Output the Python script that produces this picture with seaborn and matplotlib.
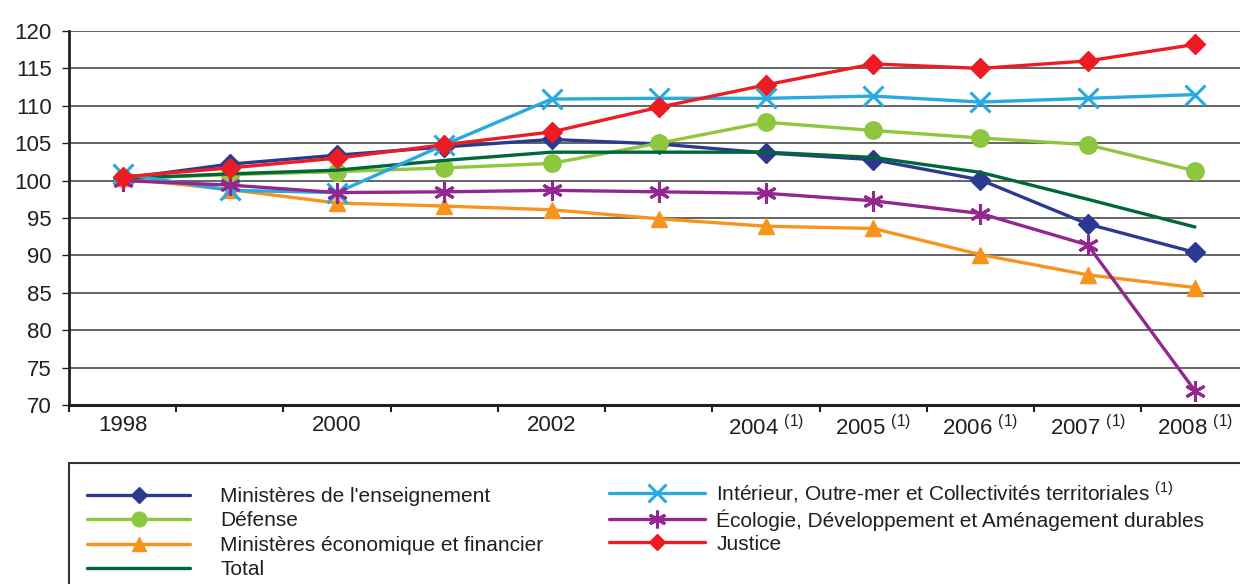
import matplotlib
matplotlib.use("Agg")
import matplotlib.pyplot as plt
import seaborn as sns
import pandas as pd
from matplotlib.lines import Line2D
from matplotlib.patches import Rectangle

years = [1998, 1999, 2000, 2001, 2002, 2003, 2004, 2005, 2006, 2007, 2008]
tick_years = [1998, 2000, 2002, 2004, 2005, 2006, 2007, 2008]
tick_labels = ["1998", "2000", "2002", "2004", "2005", "2006", "2007", "2008"]
tick_notes = ["", "", "", "(1)", "(1)", "(1)", "(1)", "(1)"]

enseignement = [100.3, 102.2, 103.4, 104.5, 105.5, 104.9, 103.7, 102.8, 100.1, 94.2, 90.4]
defense = [100.3, 100.8, 101.2, 101.7, 102.3, 105.0, 107.8, 106.7, 105.7, 104.8, 101.3]
economique = [100.3, 98.8, 97.0, 96.6, 96.1, 94.9, 93.9, 93.6, 90.1, 87.4, 85.7]
total = [100.3, 100.9, 101.4, 102.7, 103.8, 103.8, 103.8, 103.1, 101.1, 97.5, 93.8]
interieur = [100.9, 98.7, 98.4, 104.8, 110.9, 111.0, 111.0, 111.3, 110.5, 111.0, 111.5]
ecologie = [100.0, 99.4, 98.4, 98.5, 98.7, 98.5, 98.3, 97.3, 95.6, 91.4, 71.9]
justice = [100.5, 101.7, 103.0, 104.8, 106.5, 109.8, 112.8, 115.6, 115.0, 116.0, 118.2]

series = [
    ("Ministères de l'enseignement", enseignement, "#2b3990", "D", 10, 1),
    ("Défense", defense, "#8dc63f", "o", 12.5, 1),
    ("Ministères économique et financier", economique, "#f7941d", "^", 12, 1),
    ("Total", total, "#006838", None, 0, 0),
    ("Intérieur, Outre-mer et Collectivités territoriales", interieur, "#27aae1", "x", 15, 2.2),
    ("Écologie, Développement et Aménagement durables", ecologie, "#92278f", (6, 2, 0), 15, 2.2),
    ("Justice", justice, "#ed1c24", "D", 10, 1),
]

sns.set_style("white")
plt.rcParams["font.family"] = ["Liberation Sans", "DejaVu Sans"]
plt.rcParams["mathtext.fontset"] = "custom"
plt.rcParams["mathtext.rm"] = "Liberation Sans"

fig = plt.figure(figsize=(12.4, 5.84), dpi=100)
W, H = 1240, 584
ax = fig.add_axes([69 / W, 1 - 405 / H, 1 - 69 / W, (405 - 31) / H])

handles = []
for name, vals, col, mk, ms, mew in series:
    df = pd.DataFrame({"year": years, "value": vals})
    kw = dict(color=col, linewidth=2.4, ax=ax, legend=False)
    if mk is not None:
        kw.update(marker=mk, markersize=ms, markeredgecolor=col, markerfacecolor=col,
                  markeredgewidth=mew)
    sns.lineplot(data=df, x="year", y="value", **kw)
    if mk is not None:
        handles.append(Line2D([], [], color=col, linewidth=2.4, marker=mk, markersize=ms * 0.85,
                              markeredgecolor=col, markerfacecolor=col, markeredgewidth=mew))
    else:
        handles.append(Line2D([], [], color=col, linewidth=2.4))

ax.set_xlim(1997.5, 2008.42)
ax.set_ylim(70, 120)
ax.set_yticks(range(70, 121, 5))
ax.yaxis.grid(True, color="#3a3a3a", linewidth=1.1)
ax.set_axisbelow(True)
ax.set_xlabel("")
ax.set_ylabel("")

labels_full = []
for lab, note in zip(tick_labels, tick_notes):
    labels_full.append(lab + (r" $^{\mathrm{(1)}}$" if note else ""))
ax.set_xticks(tick_years)
ax.set_xticklabels(labels_full)
ax.set_xticks([y + 0.5 for y in range(1997, 2008)], minor=True)
ax.tick_params(axis="x", which="major", length=0, pad=7, labelsize=16, colors="#231f20")
ax.tick_params(axis="x", which="minor", length=5, width=1.5, direction="out", color="#231f20", bottom=True)
ax.tick_params(axis="y", length=5, width=1, direction="out", pad=7.5, labelsize=16, colors="#231f20",
               left=True)

for s in ["top", "right"]:
    ax.spines[s].set_visible(False)
ax.spines["left"].set_color("#231f20")
ax.spines["left"].set_linewidth(2)
ax.spines["bottom"].set_color("#231f20")
ax.spines["bottom"].set_linewidth(2.2)

# Legend frame
fig.patches.append(Rectangle((69 / W, -0.05), 1.2, (1 - 463 / H) + 0.05, transform=fig.transFigure,
                             fill=False, edgecolor="#333333", linewidth=1.5))

names = [s[0] for s in series]
names[4] = names[4] + r" $^{\mathrm{(1)}}$"
leg1 = fig.legend(handles[:4], names[:4], loc="upper left", bbox_to_anchor=(87 / W, 1 - 487 / H),
                  frameon=False, fontsize=15, handlelength=4.95, handletextpad=1.45,
                  labelspacing=0.26, borderpad=0, borderaxespad=0)
leg2 = fig.legend(handles[4:], names[4:], loc="upper left", bbox_to_anchor=(609 / W, 1 - 479 / H),
                  frameon=False, fontsize=15, handlelength=4.6, handletextpad=0.55,
                  labelspacing=0.2, borderpad=0, borderaxespad=0)
for leg in (leg1, leg2):
    for t in leg.get_texts():
        t.set_color("#231f20")

fig.savefig("out.png", dpi=100, facecolor="white")
